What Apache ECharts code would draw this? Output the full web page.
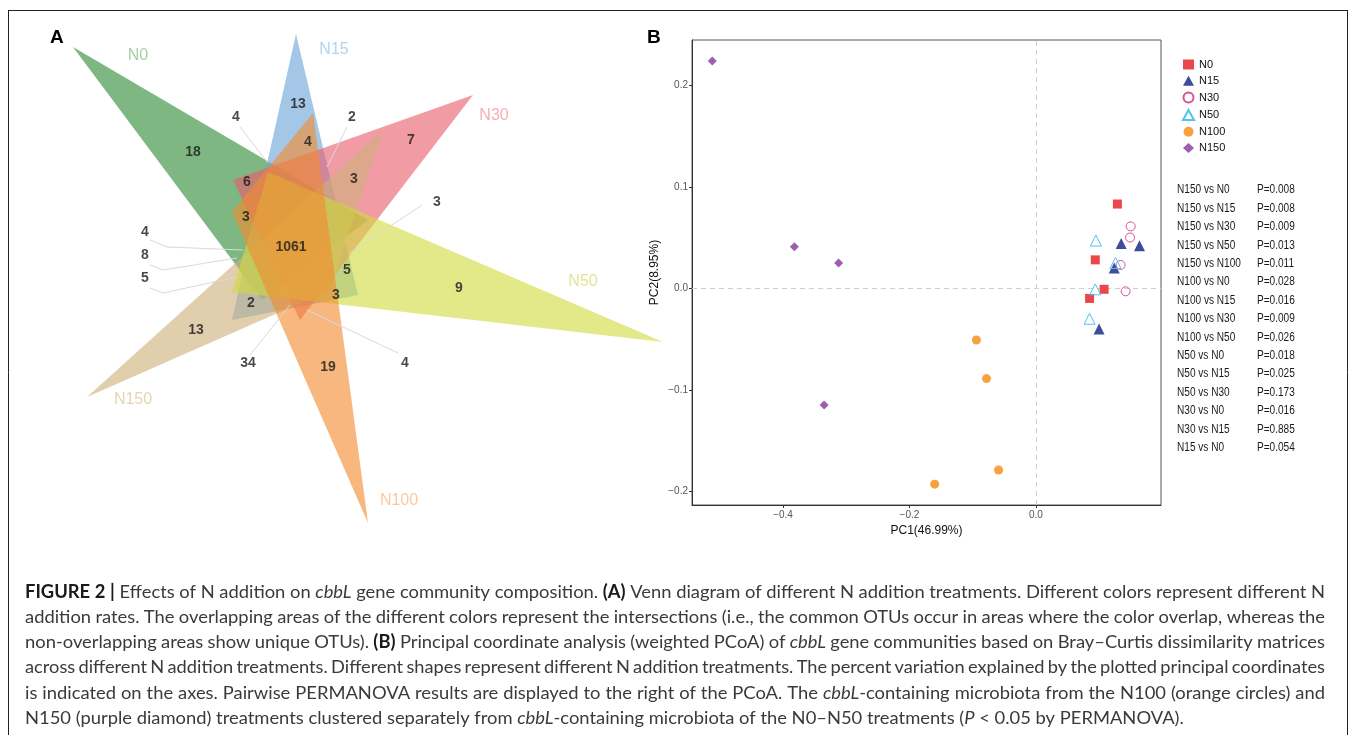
<!DOCTYPE html>
<html>
<head>
<meta charset="utf-8">
<script src="https://cdn.jsdelivr.net/npm/echarts@6/dist/echarts.min.js"></script>
<style>
html, body { margin: 0; padding: 0; background: #fff; }
#chart { width: 1355px; height: 735px; }
</style>
</head>
<body>
<div id="chart"></div>
<script>
// ---- data ----
const vennSets = ['N0', 'N15', 'N30', 'N50', 'N100', 'N150'];
const vennCounts = [18, 13, 4, 2, 4, 7, 6, 3, 3, 3, 1061, 4, 8, 5, 5, 9, 3, 2, 13, 34, 19, 4];

const pcoaN0 = [[0.129, 0.083], [0.094, 0.028], [0.108, -0.001], [0.085, -0.010]];
const pcoaN15 = [[0.135, 0.044], [0.164, 0.042], [0.124, 0.020], [0.100, -0.040]];
const pcoaN30 = [[0.150, 0.061], [0.149, 0.050], [0.134, 0.023], [0.142, -0.003]];
const pcoaN50 = [[0.095, 0.047], [0.126, 0.025], [0.094, -0.001], [0.085, -0.030]];
const pcoaN100 = [[-0.094, -0.051], [-0.078, -0.089], [-0.160, -0.193], [-0.059, -0.179]];
const pcoaN150 = [[-0.512, 0.224], [-0.382, 0.041], [-0.312, 0.025], [-0.335, -0.115]];

const xTicks = [-0.4, -0.2, 0.0];
const yTicks = [-0.2, -0.1, 0.0, 0.1, 0.2];

const permPairs = ['N150 vs N0', 'N150 vs N15', 'N150 vs N30', 'N150 vs N50', 'N150 vs N100',
  'N100 vs N0', 'N100 vs N15', 'N100 vs N30', 'N100 vs N50', 'N50 vs N0', 'N50 vs N15',
  'N50 vs N30', 'N30 vs N0', 'N30 vs N15', 'N15 vs N0'];
const permP = ['0.008', '0.008', '0.009', '0.013', '0.011', '0.028', '0.016', '0.009', '0.026',
  '0.018', '0.025', '0.173', '0.016', '0.885', '0.054'];

const caption = [
  '{b|FIGURE 2 |} Effects of N addition on {i|cbbL} gene community composition. {b|(A)} Venn diagram of different N addition treatments. Different colors represent different N',
  'addition rates. The overlapping areas of the different colors represent the intersections (i.e., the common OTUs occur in areas where the color overlap, whereas the',
  'non-overlapping areas show unique OTUs). {b|(B)} Principal coordinate analysis (weighted PCoA) of {i|cbbL} gene communities based on Bray\u2013Curtis dissimilarity matrices',
  'across different N addition treatments. Different shapes represent different N addition treatments. The percent variation explained by the plotted principal coordinates',
  'is indicated on the axes. Pairwise PERMANOVA results are displayed to the right of the PCoA. The {i|cbbL}-containing microbiota from the N100 (orange circles) and',
  'N150 (purple diamond) treatments clustered separately from {i|cbbL}-containing microbiota of the N0\u2013N50 treatments ({i|P} < 0.05 by PERMANOVA).'
];

// ---- panel A layout (pixel space of the hidden 660 x 545 grid) ----
// triangles, in drawing order, with vertex pairs
const vennTriangles = [
  [73, 47, 368, 220, 262, 300],   // N0
  [296, 34, 232, 320, 358, 295],  // N15
  [473, 95, 233, 180, 300, 320],  // N30
  [87, 397, 383, 130, 330, 290],  // N150
  [663, 342, 268, 172, 232, 292], // N50
  [368, 523, 313, 113, 232, 212]  // N100
];
const vennFill = ['#2f8a34', '#6ea5d9', '#e85e6e', '#cdb07a', '#d2da40', '#f28a2e'];
const vennSetPos = [[138, 56], [334, 50], [494, 116], [583, 282], [399, 501], [133, 400]];
const vennSetColor = ['#8cc48d', '#9fc7ea', '#f29aa4', '#dcdc78', '#f8bd86', '#dccaa4'];
const vennCountPos = [[193, 152], [298, 104], [236, 117], [352, 117], [308, 142], [411, 140],
  [247, 182], [354, 179], [437, 202], [246, 217], [291, 247], [145, 232], [145, 255], [145, 278],
  [347, 270], [459, 288], [336, 295], [251, 303], [196, 330], [248, 363], [328, 367], [405, 363]];
const vennLeaders = [
  [[240, 127], [268, 163]],
  [[347, 127], [327, 167]],
  [[422, 205], [350, 253]],
  [[150, 240], [167, 247], [243, 250]],
  [[150, 265], [163, 270], [237, 258]],
  [[150, 288], [163, 293], [237, 277]],
  [[250, 355], [290, 305]],
  [[398, 353], [307, 310]]
];

// ---- caption: words laid out one by one so lines 1-5 come out justified ----
const capFont = 'Lato';
const capSize = 18;
const capLeft = 25;
const capRight = 1325;
const ctx = document.createElement('canvas').getContext('2d');

function fontFor(tag) {
  return (tag === 'i' ? 'italic ' : '') + (tag === 'b' ? 'bold ' : '') + capSize + 'px ' + capFont;
}

// split a rich line into words; each word is a list of [tag, text]
function toWords(line) {
  const words = [];
  let cur = [];
  line.replace(/\{(\w+)\|([^}]*)\}|([^{]+)/g, function (m, tag, t, plain) {
    const txt = tag ? t : plain;
    const parts = txt.split(' ');
    parts.forEach(function (p, k) {
      if (k > 0) {
        if (cur.length) words.push(cur);
        cur = [];
      }
      if (p) cur.push([tag || 'n', p]);
    });
    return m;
  });
  if (cur.length) words.push(cur);
  return words;
}

function wordWidth(w) {
  return w.reduce(function (s, seg) {
    ctx.font = fontFor(seg[0]);
    return s + ctx.measureText(seg[1]).width;
  }, 0);
}

ctx.font = fontFor('n');
const spaceW = ctx.measureText(' ').width;
function naturalWidth(line) {
  const ws = toWords(line);
  return ws.reduce((s, w) => s + wordWidth(w), 0) + spaceW * (ws.length - 1);
}
// glyph width fitted to where the reference prints these line starts (x 25 -> 460)
const glyphScale = (435 / naturalWidth('{b|FIGURE 2 |} Effects of N addition on {i|cbbL} gene comm') +
  435 / naturalWidth('addition rates. The overlapping areas of the different co') +
  435 / naturalWidth('N150 (purple diamond) treatments clustered separatel')) / 3;

const graphics = [
  { type: 'line', shape: { x1: 8, y1: 10.5, x2: 1348, y2: 10.5 }, style: { stroke: '#222', lineWidth: 1 } },
  { type: 'line', shape: { x1: 8.5, y1: 10, x2: 8.5, y2: 735 }, style: { stroke: '#222', lineWidth: 1 } },
  { type: 'line', shape: { x1: 1347.5, y1: 10, x2: 1347.5, y2: 735 }, style: { stroke: '#222', lineWidth: 1 } },
  { type: 'text', x: 50, y: 38, style: { text: 'A', font: 'bold 19px "Liberation Sans", Arial', fill: '#000', verticalAlign: 'middle' } },
  { type: 'text', x: 647, y: 38, style: { text: 'B', font: 'bold 19px "Liberation Sans", Arial', fill: '#000', verticalAlign: 'middle' } }
];

const richStyles = {
  n: { fontSize: capSize, fontFamily: capFont, fill: '#3a3a3a' },
  b: { fontSize: capSize, fontFamily: capFont, fontWeight: 'bold', fill: '#1a1a1a' },
  i: { fontSize: capSize, fontFamily: capFont, fontStyle: 'italic', fill: '#3a3a3a' }
};

caption.forEach(function (line, i) {
  const words = toWords(line);
  const widths = words.map(w => wordWidth(w) * glyphScale);
  const total = widths.reduce((a, b) => a + b, 0);
  let gap = spaceW * glyphScale;
  let sx = glyphScale;
  if (i < caption.length - 1) {
    gap = (capRight - capLeft - total) / (words.length - 1);
    const minGap = spaceW * glyphScale * 0.7;
    if (gap < minGap) {
      // squeeze glyphs a touch when the line would not fit
      sx = glyphScale * (capRight - capLeft - minGap * (words.length - 1)) / total;
      gap = minGap;
    }
  }
  let x = capLeft;
  words.forEach(function (w, k) {
    graphics.push({
      type: 'text',
      x: x,
      y: 592 + i * 25.2,
      scaleX: sx,
      style: {
        text: w.map(seg => '{' + seg[0] + '|' + seg[1] + '}').join(''),
        x: 0,
        y: 0,
        fontSize: capSize,
        fontFamily: capFont,
        fill: '#3a3a3a',
        verticalAlign: 'middle',
        rich: richStyles
      }
    });
    x += widths[k] * sx / glyphScale + gap;
  });
});

permPairs.forEach(function (p, i) {
  const y = 190 + i * 18.4;
  graphics.push({ type: 'text', x: 1177, y: y, scaleX: 0.84,
    style: { text: p, x: 0, y: 0, fontSize: 12, fontFamily: '"Liberation Sans", Arial', fill: '#1a1a1a', verticalAlign: 'middle' } });
  graphics.push({ type: 'text', x: 1257, y: y, scaleX: 0.84,
    style: { text: 'P=' + permP[i], x: 0, y: 0, fontSize: 12, fontFamily: '"Liberation Sans", Arial', fill: '#1a1a1a', verticalAlign: 'middle' } });
});

const minus = v => v.toFixed(1).replace('-', '\u2212');

var myChart = echarts.init(document.getElementById('chart'));

const option = {
  animation: false,
  textStyle: { fontFamily: '"Liberation Sans", Arial, sans-serif' },
  grid: [
    { left: 0, top: 0, width: 660, height: 545 },
    { left: 692, top: 40, width: 469, height: 465, show: true, borderColor: '#555', borderWidth: 1 }
  ],
  xAxis: [
    { gridIndex: 0, type: 'value', min: 0, max: 660, show: false },
    {
      gridIndex: 1, type: 'value', min: -0.544, max: 0.198,
      name: 'PC1(46.99%)', nameLocation: 'middle', nameGap: 18,
      nameTextStyle: { color: '#111', fontSize: 12, fontFamily: '"Liberation Sans", Arial' },
      axisLine: { show: true, onZero: false, lineStyle: { color: '#333' } },
      axisTick: { show: true, length: 3, customValues: xTicks, lineStyle: { color: '#333' } },
      axisLabel: { customValues: xTicks, formatter: minus, color: '#555', fontSize: 10, margin: 5, fontFamily: '"Liberation Sans", Arial' },
      splitLine: { show: false }
    }
  ],
  yAxis: [
    { gridIndex: 0, type: 'value', min: 0, max: 545, inverse: true, show: false },
    {
      gridIndex: 1, type: 'value', min: -0.2135, max: 0.2446,
      name: 'PC2(8.95%)', nameLocation: 'middle', nameGap: 31,
      nameTextStyle: { color: '#111', fontSize: 12, fontFamily: '"Liberation Sans", Arial' },
      axisLine: { show: true, onZero: false, lineStyle: { color: '#333' } },
      axisTick: { show: true, length: 3, customValues: yTicks, lineStyle: { color: '#333' } },
      axisLabel: { customValues: yTicks, formatter: minus, color: '#555', fontSize: 10, margin: 4, fontFamily: '"Liberation Sans", Arial' },
      splitLine: { show: false }
    }
  ],
  legend: {
    orient: 'vertical',
    left: 1177,
    top: 54,
    itemWidth: 11,
    itemHeight: 10,
    itemGap: 5.3,
    textStyle: { fontSize: 11, color: '#111', fontFamily: '"Liberation Sans", Arial' },
    data: ['N0', 'N15', 'N30', 'N50', 'N100', 'N150']
  },
  graphic: graphics,
  series: [
    {
      type: 'custom',
      xAxisIndex: 0,
      yAxisIndex: 0,
      silent: true,
      data: vennTriangles,
      renderItem: function (params, api) {
        const pts = [];
        for (let k = 0; k < 3; k++) {
          pts.push(api.coord([api.value(2 * k), api.value(2 * k + 1)]));
        }
        return {
          type: 'polygon',
          shape: { points: pts },
          style: { fill: vennFill[params.dataIndex], opacity: 0.62 }
        };
      },
      z: 1
    },
    {
      type: 'lines',
      coordinateSystem: 'cartesian2d',
      xAxisIndex: 0,
      yAxisIndex: 0,
      polyline: true,
      silent: true,
      lineStyle: { color: '#d9d9d9', width: 1, opacity: 1 },
      data: vennLeaders.map(c => ({ coords: c })),
      z: 2
    },
    {
      type: 'scatter',
      xAxisIndex: 0,
      yAxisIndex: 0,
      silent: true,
      symbolSize: 1,
      itemStyle: { color: 'rgba(0,0,0,0)' },
      label: { show: true, position: 'inside', formatter: '{b}', fontSize: 14, fontWeight: 'bold', color: '#1a1a1a', fontFamily: '"Liberation Sans", Arial' },
      data: vennCounts.map((c, i) => ({ name: String(c), value: vennCountPos[i] })),
      z: 3
    },
    {
      type: 'scatter',
      xAxisIndex: 0,
      yAxisIndex: 0,
      silent: true,
      symbolSize: 1,
      itemStyle: { color: 'rgba(0,0,0,0)' },
      label: { show: true, position: 'inside', formatter: '{b}', fontSize: 16, fontFamily: '"Liberation Sans", Arial' },
      data: vennSets.map((s, i) => ({ name: s, value: vennSetPos[i], label: { color: vennSetColor[i] } })),
      z: 3
    },
    {
      name: 'N0', type: 'scatter', xAxisIndex: 1, yAxisIndex: 1,
      symbol: 'rect', symbolSize: 9,
      itemStyle: { color: '#ea474c', opacity: 1 },
      data: pcoaN0,
      markLine: {
        silent: true,
        symbol: ['none', 'none'],
        label: { show: false },
        lineStyle: { color: '#cfcfcf', type: [5, 4], width: 1 },
        data: [{ xAxis: 0 }, { yAxis: 0 }]
      },
      z: 5
    },
    {
      name: 'N15', type: 'scatter', xAxisIndex: 1, yAxisIndex: 1,
      symbol: 'triangle', symbolSize: 11,
      itemStyle: { color: '#3f4b9b', opacity: 1 },
      data: pcoaN15, z: 5
    },
    {
      name: 'N30', type: 'scatter', xAxisIndex: 1, yAxisIndex: 1,
      symbol: 'circle', symbolSize: 9,
      itemStyle: { color: 'rgba(255,255,255,0)', borderColor: '#d4519b', borderWidth: 1, opacity: 1 },
      data: pcoaN30, z: 5
    },
    {
      name: 'N50', type: 'scatter', xAxisIndex: 1, yAxisIndex: 1,
      symbol: 'triangle', symbolSize: 11,
      itemStyle: { color: 'rgba(255,255,255,0)', borderColor: '#4ec4f0', borderWidth: 1, opacity: 1 },
      data: pcoaN50, z: 5
    },
    {
      name: 'N100', type: 'scatter', xAxisIndex: 1, yAxisIndex: 1,
      symbol: 'circle', symbolSize: 9,
      itemStyle: { color: '#f8a23f', opacity: 1 },
      data: pcoaN100, z: 5
    },
    {
      name: 'N150', type: 'scatter', xAxisIndex: 1, yAxisIndex: 1,
      symbol: 'diamond', symbolSize: 9,
      itemStyle: { color: '#9b5fae', opacity: 1 },
      data: pcoaN150, z: 5
    }
  ]
};

myChart.setOption(option);
</script>
</body>
</html>
